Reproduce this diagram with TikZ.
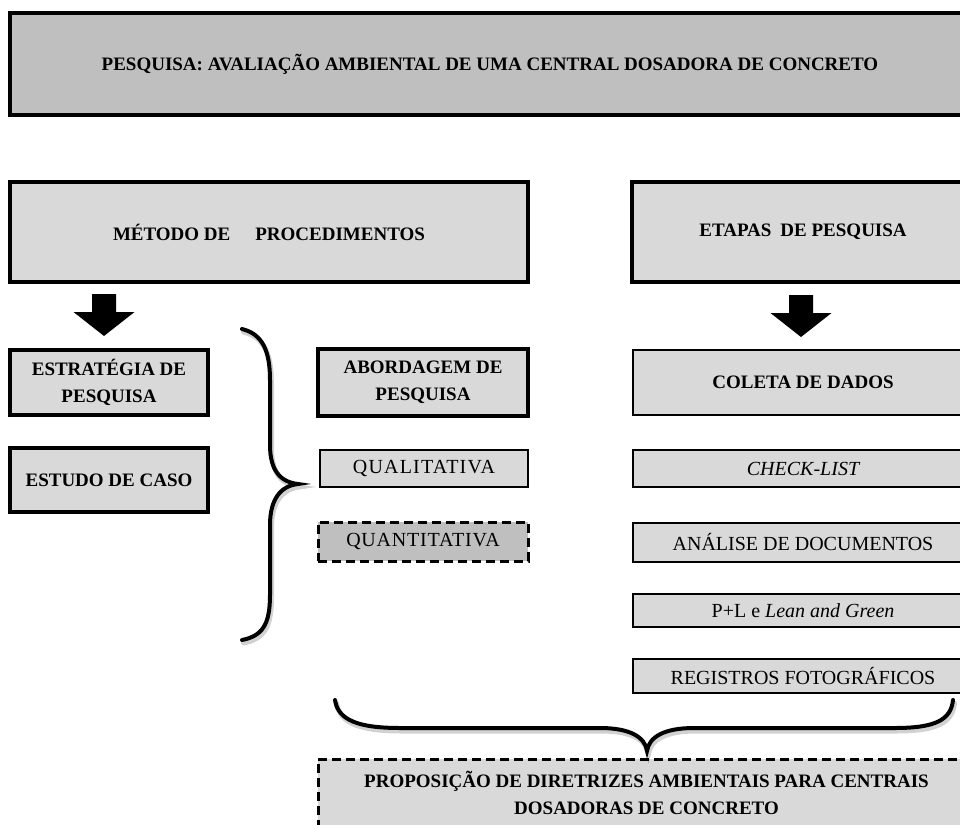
\documentclass[tikz,border=0pt]{standalone}
\usepackage{fontspec}
\setmainfont{Liberation Serif}
\definecolor{paleFill}{HTML}{D9D9D9}
\definecolor{darkFill}{HTML}{BFBFBF}
\begin{document}
\begin{tikzpicture}[x=1pt,y=-1pt,
  base/.style={draw=black, fill=paleFill, inner sep=0pt, outer sep=0pt, align=center},
  heavy/.style={base, line width=3.2pt, font=\fontsize{19}{27}\selectfont\bfseries},
  light/.style={base, line width=1.6pt, font=\fontsize{20}{27}\selectfont},
  lightbold/.style={light, font=\fontsize{19}{27}\selectfont\bfseries},
  dashbox/.style={base, line width=3pt, dash pattern=on 9pt off 5pt},
  blockarrow/.style={fill=black, draw=none},
  bracepen/.style={draw=black, line width=4pt, line cap=round},
  braceshade/.style={draw=black, line width=5pt, opacity=0.18, line cap=round}
]
\useasboundingbox (0,0) rectangle (960,824);
\clip (0,0) rectangle (960,824);
\fill[white] (0,0) rectangle (960,824);

% title banner
\node[heavy, fill=darkFill, minimum width=960pt, minimum height=102pt] (titulo) at (490,64)
  {PESQUISA: AVALIAÇÃO AMBIENTAL DE UMA CENTRAL DOSADORA DE CONCRETO};

% column headers
\node[heavy, minimum width=518pt, minimum height=100pt] (metodo) at (269,232)
  {MÉTODO DE\hspace{25pt}PROCEDIMENTOS};
\node[heavy, minimum width=342pt, minimum height=100pt] (etapas) at (803,232)
  {ETAPAS\hspace{9pt}DE PESQUISA};

% block arrows below the headers
\coordinate (setaL) at (104,294);
\coordinate (setaR) at (801,295);
\foreach \c in {setaL,setaR}{
  \fill[blockarrow] (\c) ++(-12,0) -- ++(24,0) -- ++(0,18) -- ++(18.5,0)
    -- ++(-30.5,24) -- ++(-30.5,-24) -- ++(18.5,0) -- cycle;
}

% left column
\node[heavy, minimum width=198pt, minimum height=65pt] (estrategia) at (109,382.5)
  {ESTRATÉGIA DE\\PESQUISA};
\node[heavy, minimum width=198pt, minimum height=64pt] (estudo) at (109,480)
  {ESTUDO DE CASO};

% research approach
\node[heavy, minimum width=210pt, minimum height=67pt] (abordagem) at (423,382.5)
  {ABORDAGEM DE\\PESQUISA};
\node[light, minimum width=208pt, minimum height=37pt] (qualitativa) at (424,468.5)
  {\addfontfeature{LetterSpace=6}QUALITATIVA};
\node[dashbox, fill=darkFill, font=\fontsize{20}{27}\selectfont,
  minimum width=210pt, minimum height=39pt] (quantitativa) at (423,541.5)
  {\addfontfeature{LetterSpace=4}QUANTITATIVA};

% research stages
\node[lightbold, minimum width=340pt, minimum height=65pt] (coleta) at (803,382.5)
  {COLETA DE DADOS};
\node[light, minimum width=340pt, minimum height=37pt] (checklist) at (803,468.5)
  {\itshape CHECK-LIST};
\node[light, minimum width=340pt, minimum height=39pt] (analise) at (803,542.5)
  {ANÁLISE DE DOCUMENTOS};
\node[light, minimum width=340pt, minimum height=33pt] (pl) at (803,610.5)
  {P+L e \textit{Lean and Green}};
\node[light, minimum width=340pt, minimum height=34pt] (registros) at (803,676)
  {REGISTROS FOTOGRÁFICOS};

% outcome
\node[dashbox, font=\fontsize{19}{27}\selectfont\bfseries,
  minimum width=657pt, minimum height=67pt] (proposicao) at (646.5,792.5)
  {PROPOSIÇÃO DE DIRETRIZES AMBIENTAIS PARA CENTRAIS\\DOSADORAS DE CONCRETO};

% braces
\def\bracesL{(242,329) .. controls (262,334) and (270,350) .. (270,380) -- (270,445)
  .. controls (270,470) and (280,482) .. (298,484)
  .. controls (280,486) and (270,500) .. (270,525) -- (270,595)
  .. controls (270,625) and (262,636) .. (242,640)}
\def\bracesB{(335,700) .. controls (338,720) and (358,728) .. (400,728) -- (600,728)
  .. controls (630,728) and (645,737) .. (647,751)
  .. controls (649,737) and (664,728) .. (694,728) -- (895,728)
  .. controls (935,728) and (951,720) .. (953,700)}
\begin{scope}[shift={(1.5,3)}]
  \draw[braceshade] \bracesL;
  \draw[braceshade] \bracesB;
\end{scope}
\draw[bracepen] \bracesL;
\draw[bracepen] \bracesB;
\end{tikzpicture}
\end{document}
